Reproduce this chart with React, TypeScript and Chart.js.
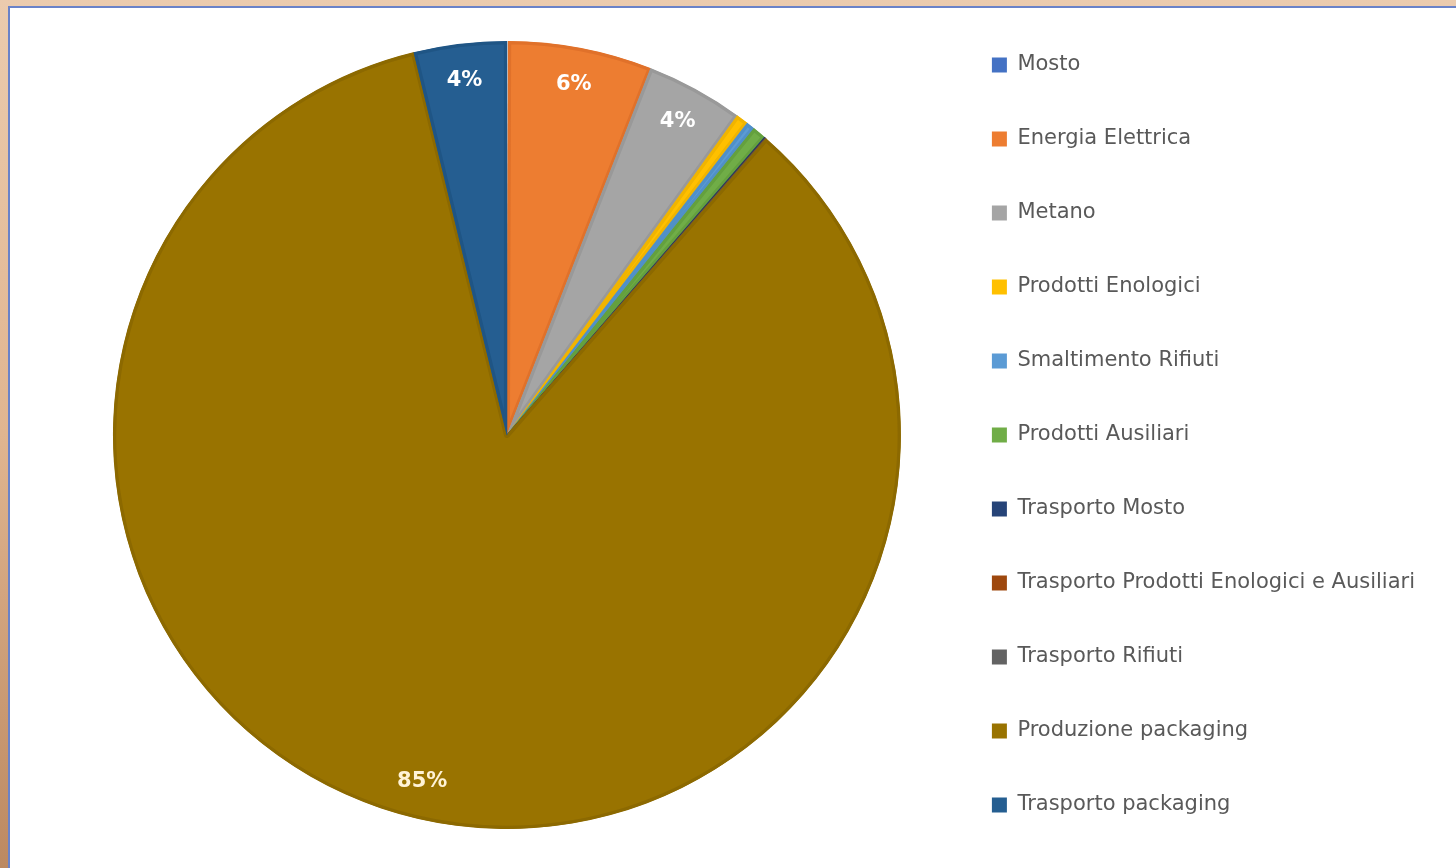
import React, { useEffect, useRef } from "react";
import { Chart, registerables } from "chart.js";

Chart.register(...registerables);

const categories = [
  "Mosto",
  "Energia Elettrica",
  "Metano",
  "Prodotti Enologici",
  "Smaltimento Rifiuti",
  "Prodotti Ausiliari",
  "Trasporto Mosto",
  "Trasporto Prodotti Enologici e Ausiliari",
  "Trasporto Rifiuti",
  "Produzione packaging",
  "Trasporto packaging",
];
const values = [0.05, 5.9, 4.0, 0.5, 0.35, 0.55, 0.05, 0.02, 0.02, 84.8, 3.8];
const sliceLabels = ["", "6%", "4%", "", "", "", "", "", "", "85%", "4%"];
const colors = [
  "#4472C4",
  "#ED7D31",
  "#A5A5A5",
  "#FFC000",
  "#5B9BD5",
  "#70AD47",
  "#264478",
  "#9E480E",
  "#636363",
  "#997300",
  "#255E91",
];
const borderColors = [
  "#FFFFFF",
  "#E0712A",
  "#999999",
  "#F0B400",
  "#5090C8",
  "#64A03E",
  "#1F3B6A",
  "#8E400C",
  "#575757",
  "#8C6900",
  "#1F5585",
];

const labelPlugin = {
  id: "sliceLabels",
  afterDatasetsDraw(chart: any) {
    const ctx = chart.ctx;
    const meta = chart.getDatasetMeta(0);
    ctx.save();
    ctx.font = "bold 21px 'DejaVu Sans'";
    ctx.textAlign = "center";
    ctx.textBaseline = "middle";
    meta.data.forEach((arc: any, i: number) => {
      const t = sliceLabels[i];
      if (!t) return;
      const p = arc.getProps(["x", "y", "startAngle", "endAngle", "outerRadius"], true);
      const mid = (p.startAngle + p.endAngle) / 2;
      const r = p.outerRadius * 0.905;
      ctx.fillStyle = i === 9 ? "#FFF3D6" : "#FFFFFF";
      ctx.fillText(t, p.x + Math.cos(mid) * r, p.y + Math.sin(mid) * r);
    });
    ctx.restore();
  },
};

export default function App() {
  const ref = useRef<HTMLCanvasElement | null>(null);
  useEffect(() => {
    if (!ref.current) return;
    const chart = new Chart(ref.current, {
      type: "pie",
      data: {
        labels: categories,
        datasets: [
          {
            data: values,
            backgroundColor: colors,
            borderColor: borderColors,
            borderWidth: 3,
            borderAlign: "inner",
            radius: 394,
          } as any,
        ],
      },
      options: {
        animation: false,
        responsive: false,
        maintainAspectRatio: false,
        layout: { padding: { top: 0, bottom: 0, left: 75, right: 75 } },
        plugins: {
          tooltip: { enabled: false },
          legend: {
            position: "right",
            align: "center",
            labels: {
              boxWidth: 15,
              boxHeight: 15,
              padding: 53,
              color: "#595959",
              font: { family: "'DejaVu Sans'", size: 21 },
              generateLabels: () =>
                categories.map((c, i) => ({
                  text: c,
                  fillStyle: colors[i],
                  strokeStyle: colors[i],
                  lineWidth: 0,
                  hidden: false,
                  index: i,
                  fontColor: "#595959",
                })),
            },
          },
        },
      },
      plugins: [labelPlugin],
    });
    return () => chart.destroy();
  }, []);

  return (
    <div
      style={{
        position: "fixed",
        left: 0,
        top: 0,
        width: 1456,
        height: 868,
        background: "linear-gradient(180deg, #EBCBAE 0%, #E0B590 50%, #BC8961 100%)",
        overflow: "hidden",
      }}
    >
      <div
        style={{
          position: "absolute",
          left: 8,
          top: 6,
          width: 1448,
          height: 862,
          boxSizing: "border-box",
          borderLeft: "2px solid #6A82C8",
          borderTop: "2px solid #6A82C8",
          background: "#FFFFFF",
        }}
      />
      <canvas
        ref={ref}
        width={1500}
        height={880}
        style={{ display: "block", position: "absolute", left: 0, top: -5 }}
      />
    </div>
  );
}
